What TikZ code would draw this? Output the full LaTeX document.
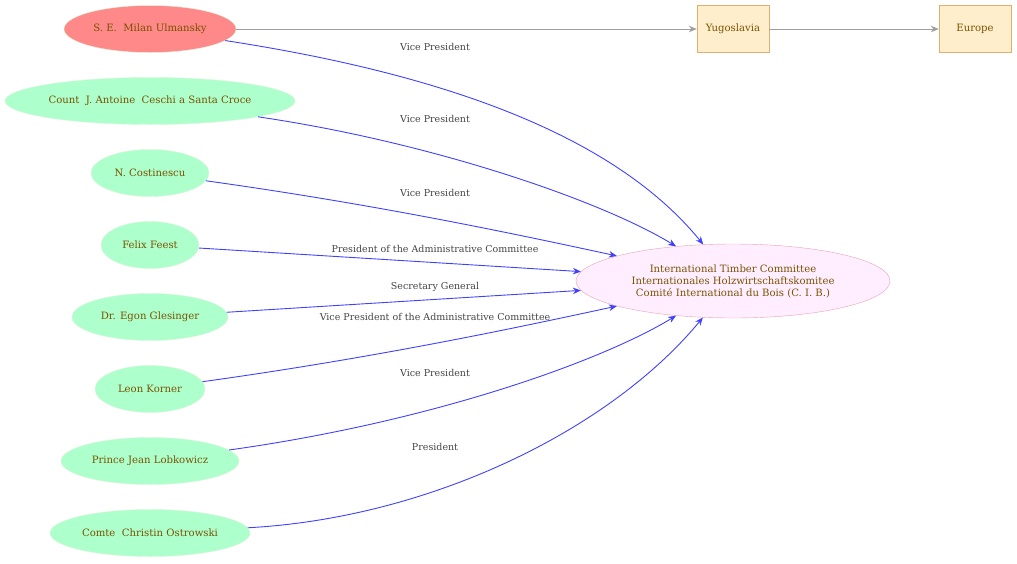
\documentclass[tikz,border=0pt]{standalone}
\usepackage{fontspec}
\setmainfont{DejaVu Serif}
\usetikzlibrary{shapes.geometric,arrows.meta}
\definecolor{pers}{HTML}{ADFFCC}
\definecolor{lead}{HTML}{FF8888}
\definecolor{persline}{HTML}{D8F5D8}
\definecolor{orgfill}{HTML}{FFEEFF}
\definecolor{orgline}{HTML}{E8A4B0}
\definecolor{placefill}{HTML}{FFEECC}
\definecolor{placeline}{HTML}{DDB070}
\definecolor{txt}{HTML}{7A5200}
\definecolor{rel}{HTML}{4040FF}
\definecolor{lbltxt}{HTML}{444444}
\begin{document}
\begin{tikzpicture}[x=1pt,y=-1pt,
    person/.style={ellipse,draw=persline,fill=pers,text=txt,inner sep=0pt,minimum height=47pt,font=\fontsize{10.1}{11}\selectfont},
    org/.style={ellipse,draw=orgline,fill=orgfill,text=txt,align=center,inner sep=0pt,minimum width=314pt,minimum height=74pt,font=\fontsize{10.1}{12}\selectfont},
    place/.style={rectangle,draw=placeline,fill=placefill,text=txt,minimum width=72pt,minimum height=47pt,font=\fontsize{10.1}{11}\selectfont},
    role/.style={text=lbltxt,font=\fontsize{9.5}{10}\selectfont},
    rolearrow/.style={draw=rel,line width=0.9pt,-{Stealth[length=8pt,width=6.5pt]}},
    geoarrow/.style={draw=gray!75,line width=0.9pt,-{Stealth[length=8pt,width=6.5pt]}}]
  \useasboundingbox (0,0) rectangle (1017,563);
  % people
  \node[person,fill=lead,minimum width=172pt] (ulmansky) at (150,29) {S. E.\ \ Milan Ulmansky};
  \node[person,minimum width=290pt] (ceschi) at (150,101) {Count\ \ J. Antoine\ \ Ceschi a Santa Croce};
  \node[person,minimum width=118pt] (costinescu) at (150,173) {N. Costinescu};
  \node[person,minimum width=98pt] (feest) at (150,245) {Felix Feest};
  \node[person,minimum width=156pt] (glesinger) at (150,317) {Dr. Egon Glesinger};
  \node[person,minimum width=110pt] (korner) at (150,389) {Leon Korner};
  \node[person,minimum width=178pt] (lobkowicz) at (150,461) {Prince Jean Lobkowicz};
  \node[person,minimum width=200pt] (ostrowski) at (150,533) {Comte\ \ Christin Ostrowski};
  % committee and places
  \node[org] (cib) at (733,281) {International Timber Committee\\Internationales Holzwirtschaftskomitee\\Comité International du Bois (C. I. B.)};
  \node[place] (yugoslavia) at (733,29) {Yugoslavia};
  \node[place] (europe) at (975,29) {Europe};
  \draw[geoarrow] (ulmansky) -- (yugoslavia);
  \draw[geoarrow] (yugoslavia) -- (europe);
  % roles
  \draw[rolearrow] (ulmansky) .. controls (430,72) and (610,130) .. (cib);
  \draw[rolearrow] (ceschi) .. controls (430,142) and (600,200) .. (cib);
  \draw[rolearrow] (costinescu) .. controls (380,205) and (520,235) .. (cib);
  \draw[rolearrow] (feest) -- (cib);
  \draw[rolearrow] (glesinger) -- (cib);
  \draw[rolearrow] (korner) .. controls (380,357) and (520,327) .. (cib);
  \draw[rolearrow] (lobkowicz) .. controls (430,422) and (600,362) .. (cib);
  \draw[rolearrow] (ostrowski) .. controls (430,518) and (610,430) .. (cib);
  \node[role] (r1) at (435,47) {Vice President};
  \node[role] (r2) at (435,119) {Vice President};
  \node[role] (r3) at (435,193) {Vice President};
  \node[role] (r4) at (435,249) {President of the Administrative Committee};
  \node[role] (r5) at (435,287) {Secretary General};
  \node[role] (r6) at (435,317) {Vice President of the Administrative Committee};
  \node[role] (r7) at (435,373) {Vice President};
  \node[role] (r8) at (435,447) {President};
\end{tikzpicture}
\end{document}
